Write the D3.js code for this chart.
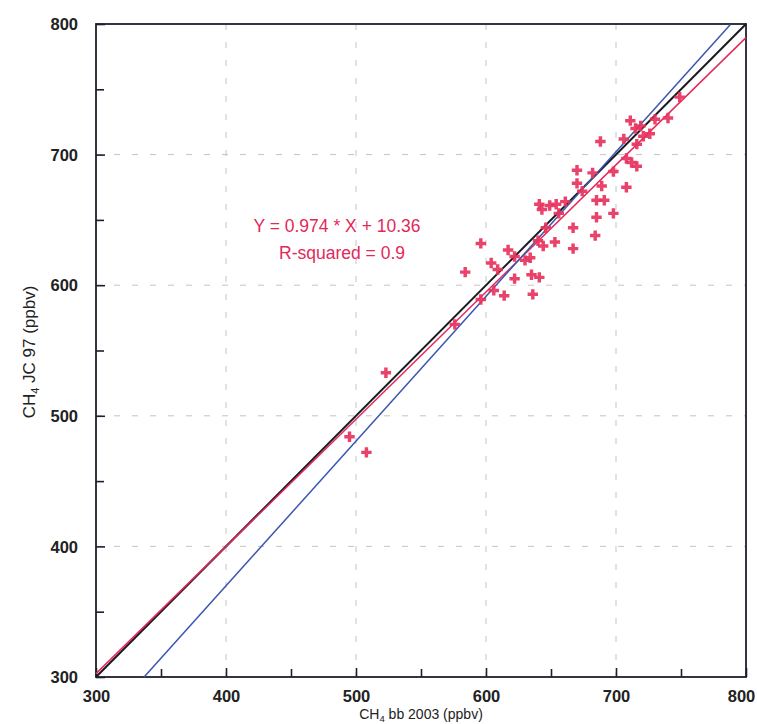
<!DOCTYPE html>
<html>
<head>
<meta charset="utf-8">
<script src="https://cdn.jsdelivr.net/npm/d3@7"></script>
<style>
  body { margin: 0; background: #fff; }
  text { font-family: 'Liberation Sans', Arial, sans-serif; }
</style>
</head>
<body>
<svg width="757" height="724"></svg>
<script>
// Données
const bb2003 = [495, 508, 523, 576, 584, 596, 596, 604, 609, 606, 614, 617, 622, 622, 630, 634, 636, 635, 641,
  641, 643, 640, 644, 646, 649, 653, 654, 656, 661, 667, 667, 670, 670, 674, 682, 684, 685, 685, 688, 689,
  691, 698, 698, 706, 708, 708, 711, 712, 715, 716, 716, 719, 721, 726, 730, 740, 749];
const jc97 = [484, 472, 533, 570, 610, 632, 589, 617, 612, 596, 592, 627, 622, 605, 619, 621, 593, 608, 606,
  662, 658, 634, 630, 644, 661, 633, 662, 655, 664, 644, 628, 688, 678, 672, 686, 638, 665, 652, 710, 676,
  665, 687, 655, 712, 697, 675, 726, 694, 720, 708, 691, 722, 714, 716, 727, 728, 744];

const ticks = [300, 400, 500, 600, 700, 800];
const minorTicks = [350, 450, 550, 650, 750];

// droites : y = x, régression, et la droite bleue
const fits = [
  {name: 'un pour un', slope: 1, intercept: 0, x0: 300, x1: 800, color: '#1a1a22', width: 2},
  {name: 'regression', slope: 0.974, intercept: 10.36, x0: 300, x1: 800, color: '#e3285a', width: 1.5},
  {name: 'bleue', slope: 1.108, intercept: -73.4, x0: 337, x1: 788, color: '#3a56b0', width: 1.5}
];

const points = bb2003.map((x, i) => ({x, y: jc97[i]}));

const svg = d3.select('svg');
const mLeft = 96, mRight = 746, mTop = 24, mBottom = 677;

const x = d3.scaleLinear().domain([300, 800]).range([mLeft, mRight]);
const y = d3.scaleLinear().domain([300, 800]).range([mBottom, mTop]);

// grille pointillée
const grid = svg.append('g').attr('stroke', '#c4c4c4').attr('stroke-dasharray', '6,12').attr('stroke-width', 1);
ticks.slice(1, -1).forEach(t => {
  grid.append('line').attr('x1', x(t)).attr('x2', x(t)).attr('y1', mTop).attr('y2', mBottom);
  grid.append('line').attr('x1', mLeft).attr('x2', mRight).attr('y1', y(t)).attr('y2', y(t));
});

// axes (ticks vers l'intérieur)
const xAxis = svg.append('g')
  .attr('transform', `translate(0,${mBottom})`)
  .call(d3.axisBottom(x).tickValues(ticks).tickSizeInner(-9).tickSizeOuter(0).tickPadding(14));
const yAxis = svg.append('g')
  .attr('transform', `translate(${mLeft},0)`)
  .call(d3.axisLeft(y).tickValues(ticks).tickSizeInner(-9).tickSizeOuter(0).tickPadding(18));

[xAxis, yAxis].forEach(a => {
  a.select('.domain').remove();
  a.selectAll('line').attr('stroke', '#1e1e2e').attr('stroke-width', 1.6);
  a.selectAll('text').attr('font-size', 16.5).attr('fill', '#222').attr('font-weight', 'bold')
    .attr('font-family', "'Liberation Sans', Arial, sans-serif");
});
yAxis.selectAll('text').attr('dy', '0.35em');
xAxis.selectAll('text').attr('dy', '0.68em');
// le dernier libellé touche le bord droit
xAxis.selectAll('text').filter(d => d === 800).attr('x', -5);

svg.append('g').attr('transform', `translate(0,${mBottom})`)
  .call(d3.axisBottom(x).tickValues(minorTicks).tickSizeInner(-8).tickSizeOuter(0).tickFormat(''))
  .call(a => a.select('.domain').remove())
  .selectAll('line').attr('stroke', '#1e1e2e').attr('stroke-width', 1.6);
svg.append('g').attr('transform', `translate(${mLeft},0)`)
  .call(d3.axisLeft(y).tickValues(minorTicks).tickSizeInner(-8).tickSizeOuter(0).tickFormat(''))
  .call(a => a.select('.domain').remove())
  .selectAll('line').attr('stroke', '#1e1e2e').attr('stroke-width', 1.6);

// cadre
svg.append('rect')
  .attr('x', mLeft).attr('y', mTop)
  .attr('width', mRight - mLeft).attr('height', mBottom - mTop)
  .attr('fill', 'none').attr('stroke', '#1e1e2e').attr('stroke-width', 1.8);

// droites
svg.append('g').selectAll('line')
  .data(fits)
  .join('line')
  .attr('x1', d => x(d.x0))
  .attr('y1', d => y(d.slope * d.x0 + d.intercept))
  .attr('x2', d => x(d.x1))
  .attr('y2', d => y(d.slope * d.x1 + d.intercept))
  .attr('stroke', d => d.color)
  .attr('stroke-width', d => d.width);

// points (croix)
svg.append('g').selectAll('path')
  .data(points)
  .join('path')
  .attr('transform', d => `translate(${x(d.x)},${y(d.y)})`)
  .attr('d', d3.symbol().type(d3.symbolCross).size(60))
  .attr('fill', '#e8335e')
  .attr('opacity', 0.92);

// équation
svg.append('text')
  .attr('x', 337).attr('y', 232)
  .attr('text-anchor', 'middle')
  .attr('font-size', 17.5).attr('fill', '#e3285a')
  .text('Y = 0.974 * X + 10.36');
svg.append('text')
  .attr('x', 342).attr('y', 259)
  .attr('text-anchor', 'middle')
  .attr('font-size', 17.5).attr('fill', '#e3285a')
  .text('R-squared = 0.9');

// titres des axes
const xt = svg.append('text')
  .attr('x', 421).attr('y', 719)
  .attr('text-anchor', 'middle')
  .attr('font-size', 14).attr('fill', '#222');
xt.append('tspan').text('CH');
xt.append('tspan').attr('font-size', 9.5).attr('dy', 2.5).text('4');
xt.append('tspan').attr('dy', -2.5).text(' bb 2003 (ppbv)');

const yt = svg.append('text')
  .attr('transform', 'translate(35,352) rotate(-90)')
  .attr('text-anchor', 'middle')
  .attr('font-size', 17).attr('fill', '#222');
yt.append('tspan').text('CH');
yt.append('tspan').attr('font-size', 11).attr('dy', 4).text('4');
yt.append('tspan').attr('dy', -4).text(' JC 97 (ppbv)');
</script>
</body>
</html>
